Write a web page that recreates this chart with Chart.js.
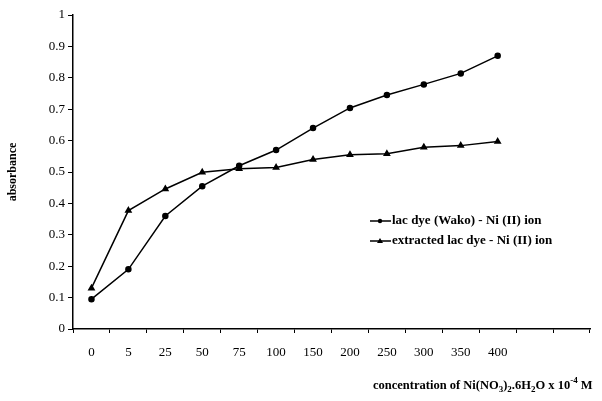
<!DOCTYPE html>
<html>
<head>
<meta charset="utf-8">
<script src="https://cdn.jsdelivr.net/npm/chart.js@4/dist/chart.umd.min.js"></script>
<style>
  html, body { margin: 0; padding: 0; background: #fff; }
  #wrap { width: 602px; height: 401px; }
</style>
</head>
<body>
<div id="wrap"><canvas id="absChart" width="602" height="401"></canvas></div>
<script>
// concentration categories (x 10^-4 M), two empty slots after 400
var concentrations = ['0', '5', '25', '50', '75', '100', '150', '200', '250', '300', '350', '400', '', ''];
var wakoNi = [0.095, 0.19, 0.36, 0.455, 0.52, 0.57, 0.64, 0.704, 0.745, 0.779, 0.814, 0.87];
var extractedNi = [0.13, 0.377, 0.446, 0.499, 0.51, 0.514, 0.54, 0.555, 0.558, 0.579, 0.584, 0.597];
var yTicks = [0, 0.1, 0.2, 0.3, 0.4, 0.5, 0.6, 0.7, 0.8, 0.9, 1];

var serif = '"Liberation Serif", "DejaVu Serif", serif';

// legend box and axis titles drawn by hand (subscripts in the x title)
var extras = {
    id: 'extras',
    afterDraw: function (chart) {
        var ctx = chart.ctx;
        ctx.save();
        ctx.fillStyle = '#000';
        ctx.strokeStyle = '#000';
        ctx.textBaseline = 'middle';

        // legend
        var items = [
            { text: 'lac dye (Wako) - Ni (II) ion', style: 'circle', y: 221 },
            { text: 'extracted lac dye - Ni (II) ion', style: 'triangle', y: 241 }
        ];
        items.forEach(function (it) {
            ctx.lineWidth = 1.5;
            ctx.beginPath();
            ctx.moveTo(370, it.y);
            ctx.lineTo(391, it.y);
            ctx.stroke();
            ctx.beginPath();
            if (it.style === 'circle') {
                ctx.arc(380, it.y, 2.2, 0, Math.PI * 2);
            } else {
                ctx.moveTo(380, it.y - 3);
                ctx.lineTo(383, it.y + 2);
                ctx.lineTo(377, it.y + 2);
                ctx.closePath();
            }
            ctx.fill();
            ctx.font = 'bold 13px ' + serif;
            ctx.textAlign = 'left';
            ctx.fillText(it.text, 392, it.y);
        });

        // y title
        ctx.save();
        ctx.translate(13, 172);
        ctx.rotate(-Math.PI / 2);
        ctx.textAlign = 'center';
        ctx.font = 'bold 12px ' + serif;
        ctx.fillText('absorbance', 0, 0);
        ctx.restore();

        // x title with sub/superscripts
        var parts = [
            ['concentration of Ni(NO', 0], ['3', 1], [')', 0], ['2', 1], ['.6H', 0],
            ['2', 1], ['O x 10', 0], ['-4', -1], [' M', 0]
        ];
        var x = 373, base = 389;
        ctx.textAlign = 'left';
        ctx.textBaseline = 'alphabetic';
        parts.forEach(function (p) {
            var small = p[1] !== 0;
            ctx.font = (small ? 'bold 9px ' : 'bold 12.5px ') + serif;
            var dy = p[1] === 1 ? 3 : (p[1] === -1 ? -6 : 0);
            ctx.fillText(p[0], x, base + dy);
            x += ctx.measureText(p[0]).width;
        });
        ctx.restore();
    }
};

new Chart(document.getElementById('absChart').getContext('2d'), {
    type: 'line',
    data: {
        labels: concentrations,
        datasets: [{
            label: 'lac dye (Wako) - Ni (II) ion',
            data: wakoNi,
            borderColor: '#000',
            backgroundColor: '#000',
            borderWidth: 1.5,
            pointStyle: 'circle',
            pointRadius: 2.5,
            tension: 0
        }, {
            label: 'extracted lac dye - Ni (II) ion',
            data: extractedNi,
            borderColor: '#000',
            backgroundColor: '#000',
            borderWidth: 1.5,
            pointStyle: 'triangle',
            pointRadius: 3,
            tension: 0
        }]
    },
    options: {
        responsive: false,
        animation: false,
        layout: { padding: { top: 15, right: 12, left: 0, bottom: 0 } },
        plugins: {
            legend: { display: false },
            tooltip: { enabled: false }
        },
        scales: {
            x: {
                offset: true,
                grid: {
                    offset: true,
                    drawOnChartArea: false,
                    drawTicks: true,
                    tickLength: 4,
                    color: '#000'
                },
                border: { color: '#000', width: 1.5 },
                ticks: {
                    color: '#000',
                    font: { family: serif, size: 13 },
                    padding: 12,
                    maxRotation: 0,
                    autoSkip: false
                },
                afterFit: function (scale) { scale.height = 72; }
            },
            y: {
                min: 0,
                max: 1,
                afterBuildTicks: function (scale) {
                    scale.ticks = yTicks.map(function (v) { return { value: v }; });
                },
                grid: {
                    drawOnChartArea: false,
                    drawTicks: true,
                    tickLength: 5,
                    color: '#000'
                },
                border: { color: '#000', width: 1.5 },
                ticks: {
                    color: '#000',
                    font: { family: serif, size: 13 },
                    padding: 3,
                    callback: function (v) { return String(Math.round(v * 10) / 10); }
                },
                afterFit: function (scale) { scale.width = 73; }
            }
        }
    },
    plugins: [extras]
});
</script>
</body>
</html>
